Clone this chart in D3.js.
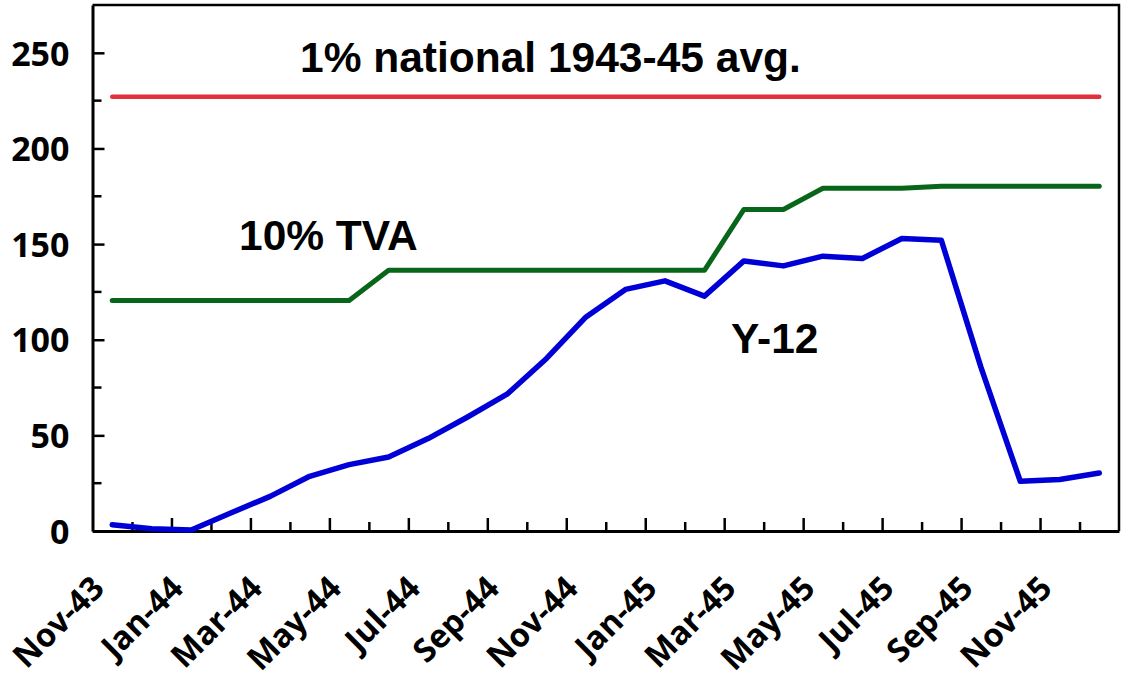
<!DOCTYPE html>
<html>
<head>
<meta charset="utf-8">
<script src="https://cdn.jsdelivr.net/npm/d3@7"></script>
<style>
  body { margin: 0; background: #fff; }
  .tick text { font-family: "Open Sans", Lato, sans-serif; font-weight: 700; }
</style>
</head>
<body>
<div class="lineChart"></div>
<script>
const months = ["Nov-43", "Dec-43", "Jan-44", "Feb-44", "Mar-44", "Apr-44", "May-44", "Jun-44", "Jul-44",
    "Aug-44", "Sep-44", "Oct-44", "Nov-44", "Dec-44", "Jan-45", "Feb-45", "Mar-45", "Apr-45", "May-45",
    "Jun-45", "Jul-45", "Aug-45", "Sep-45", "Oct-45", "Nov-45", "Dec-45"]
const y12 = [3.3, 1.2, 0.5, 9.4, 18.1, 28.6, 34.7, 38.7, 48.3, 59.6, 71.5, 90.2, 111.9, 126.3, 130.8,
    122.8, 141.2, 138.6, 143.7, 142.5, 152.9, 152.0, 85.8, 26.0, 26.9, 30.3]
const tva = [120.5, 120.5, 120.5, 120.5, 120.5, 120.5, 120.5, 136.3, 136.3, 136.3, 136.3, 136.3, 136.3,
    136.3, 136.3, 136.3, 168.1, 168.1, 179.2, 179.2, 179.2, 180.3, 180.3, 180.3, 180.3, 180.3]
const national = [227, 227, 227, 227, 227, 227, 227, 227, 227, 227, 227, 227, 227, 227, 227, 227, 227,
    227, 227, 227, 227, 227, 227, 227, 227, 227]
const yMajor = [0, 50, 100, 150, 200, 250]
const yMinor = [25, 75, 125, 175, 225]

function renderLineChart() {
    const width = 1123
    const height = 681
    const plot = {left: 92.5, right: 1119, top: 5, bottom: 531}

    const svg = d3.select('.lineChart').append('svg')
        .attr('width', width)
        .attr('height', height)

    const x = d3.scaleBand()
        .domain(months)
        .range([plot.left, plot.right])
    const xIdx = d3.scaleLinear()
        .domain([0, months.length])
        .range([plot.left, plot.right])
    const y = d3.scaleLinear()
        .domain([0, 275])
        .range([plot.bottom, plot.top])
    const cx = (d) => x(d) + x.bandwidth() / 2

    // box round the plot
    svg.append('path')
        .attr('d', `M${plot.left},${plot.top}H${plot.right}V${plot.bottom}`)
        .attr('fill', 'none')
        .attr('stroke', '#000')
        .attr('stroke-width', 2.5)

    // y axis: major ticks inside, labels left
    const yAxis = svg.append('g')
        .attr('transform', `translate(${plot.left},0)`)
        .call(d3.axisLeft(y).tickValues(yMajor).tickSize(-12).tickPadding(23).tickSizeOuter(0))
    yAxis.select('.domain').attr('stroke-width', 3)
    yAxis.selectAll('.tick line').attr('stroke-width', 2.5)
    yAxis.selectAll('.tick text').attr('font-size', 34).attr('dy', '0.36em').attr('fill', '#000')

    svg.append('g').selectAll('line')
        .data(yMinor).enter()
        .append('line')
        .attr('x1', plot.left).attr('x2', plot.left + 9)
        .attr('y1', d => y(d)).attr('y2', d => y(d))
        .attr('stroke', '#000')
        .attr('stroke-width', 2.5)

    // x axis: ticks on category edges, long every second one
    const xAxis = svg.append('g')
        .attr('transform', `translate(0,${plot.bottom})`)
        .call(d3.axisBottom(xIdx).tickValues(d3.range(1, months.length)).tickSize(-13).tickSizeOuter(0).tickFormat(''))
    xAxis.select('.domain').attr('stroke-width', 3)
    xAxis.selectAll('.tick line')
        .attr('stroke-width', 2.5)
        .attr('y2', d => d % 2 === 0 ? -13 : -9)

    svg.append('g').selectAll('text')
        .data(months.filter((d, i) => i % 2 === 0)).enter()
        .append('text')
        .attr('transform', d => `translate(${cx(d) - 6},${plot.bottom + 59}) rotate(-45)`)
        .attr('text-anchor', 'end')
        .attr('font-family', '"Open Sans", Lato, sans-serif')
        .attr('font-weight', 700)
        .attr('font-size', 32.5)
        .text(d => d)

    ///////////////////////////////////////////////////////////////////////////
    const series = [
        {values: national, color: '#e0303c', width: 4.5},
        {values: tva, color: '#08661a', width: 5},
        {values: y12, color: '#0000d6', width: 5.5}
    ]
    const line = d3.line()
        .x((d, i) => cx(months[i]))
        .y(d => y(d))

    svg.selectAll('.series')
        .data(series).enter()
        .append('path')
        .attr('class', 'series')
        .attr('d', d => line(d.values))
        .attr('fill', 'none')
        .attr('stroke', d => d.color)
        .attr('stroke-width', d => d.width)
        .attr('stroke-linejoin', 'round')
        .attr('stroke-linecap', 'round')

    const labels = [
        {text: '1% national 1943-45 avg.', x: 300, y: 72},
        {text: '10% TVA', x: 239, y: 250},
        {text: 'Y-12', x: 731, y: 353}
    ]
    svg.selectAll('.label')
        .data(labels).enter()
        .append('text')
        .attr('class', 'label')
        .attr('x', d => d.x)
        .attr('y', d => d.y)
        .attr('font-family', '"Liberation Sans", Arial, sans-serif')
        .attr('font-weight', 700)
        .attr('font-size', 42.5)
        .text(d => d.text)
}

renderLineChart()
</script>
</body>
</html>
